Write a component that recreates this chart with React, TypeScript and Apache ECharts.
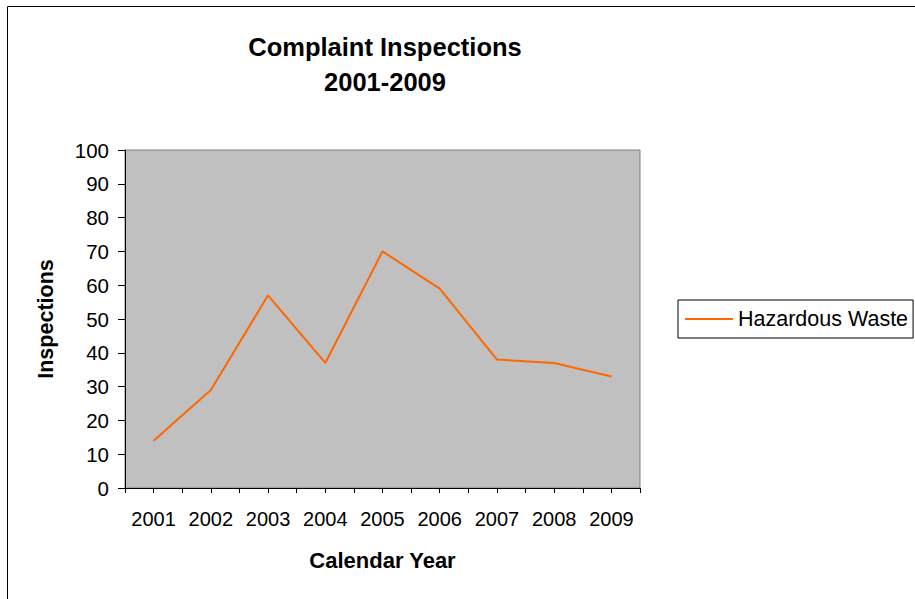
import React, { useEffect, useRef } from "react";
import * as echarts from "echarts";

const years = ["2001", "2002", "2003", "2004", "2005", "2006", "2007", "2008", "2009"];
const hazardousWaste = [14, 29, 57, 37, 70, 59, 38, 37, 33];
const seriesName = "Hazardous Waste";
const titleLines = ["Complaint Inspections", "2001-2009"];
const yAxisTitle = "Inspections";
const xAxisTitle = "Calendar Year";

const FONT = "'Liberation Sans', Arial, sans-serif";

export default function App() {
  const ref = useRef<HTMLDivElement>(null);
  useEffect(() => {
    if (!ref.current) return;
    const chart = echarts.init(ref.current, undefined, { renderer: "svg" });
    chart.setOption({
      animation: false,
      backgroundColor: "#ffffff",
      textStyle: { fontFamily: FONT },
      title: {
        text: titleLines.join("\n"),
        left: 380,
        top: 24,
        textAlign: "center",
        textStyle: {
          fontFamily: FONT,
          fontSize: 25.5,
          fontWeight: "bold",
          color: "#000",
          lineHeight: 35,
        },
      },
      graphic: [
        {
          type: "rect",
          shape: { x: 7.5, y: 6.5, width: 1200, height: 1200 },
          style: { fill: "none", stroke: "#000", lineWidth: 1 },
          silent: true,
          z: -10,
        },
      ],
      legend: {
        left: 678,
        top: 300,
        orient: "vertical",
        backgroundColor: "#fff",
        borderColor: "#000",
        borderWidth: 1,
        padding: [8, 5, 8, 7],
        itemWidth: 48,
        itemHeight: 14,
        itemGap: 0,
        textStyle: { fontFamily: FONT, fontSize: 21.5, color: "#000", padding: [0, 0, 0, 0] },
        data: [{ name: seriesName, icon: "path://M0,6 L48,6 L48,8 L0,8 Z" }],
      },
      grid: {
        left: 125,
        top: 150,
        right: 275,
        bottom: 111,
        show: true,
        backgroundColor: "#C0C0C0",
        borderColor: "#808080",
        borderWidth: 1,
      },
      xAxis: [
        {
          type: "category",
          data: years,
          boundaryGap: true,
          axisLine: { show: true, lineStyle: { color: "#000", width: 1 } },
          axisTick: { show: true, alignWithLabel: false, length: 5, lineStyle: { color: "#000" } },
          axisLabel: { fontFamily: FONT, fontSize: 20, color: "#000", margin: 21, interval: 0 },
          name: xAxisTitle,
          nameLocation: "middle",
          nameGap: 61,
          nameTextStyle: { fontFamily: FONT, fontSize: 22, fontWeight: "bold", color: "#000" },
        },
        {
          type: "category",
          data: years,
          boundaryGap: true,
          position: "bottom",
          axisLine: { show: false },
          axisTick: { show: true, alignWithLabel: true, length: 5, lineStyle: { color: "#000" } },
          axisLabel: { show: false },
        },
      ],
      yAxis: {
        type: "value",
        min: 0,
        max: 100,
        interval: 10,
        splitLine: { show: false },
        axisLine: { show: true, lineStyle: { color: "#000", width: 1 } },
        axisTick: { show: true, length: 7, lineStyle: { color: "#000" } },
        axisLabel: { fontFamily: FONT, fontSize: 20.5, color: "#000", margin: 16 },
        name: yAxisTitle,
        nameLocation: "middle",
        nameGap: 68,
        nameRotate: 90,
        nameTextStyle: { fontFamily: FONT, fontSize: 21.5, fontWeight: "bold", color: "#000" },
      },
      series: [
        {
          name: seriesName,
          type: "line",
          xAxisIndex: 0,
          data: hazardousWaste,
          symbol: "none",
          showSymbol: false,
          lineStyle: { color: "#FF6600", width: 2 },
          itemStyle: { color: "#FF6600" },
        },
      ],
    });
    return () => chart.dispose();
  }, []);
  return (
    <div
      ref={ref}
      style={{ position: "absolute", left: 0, top: 0, width: 915, height: 599 }}
    />
  );
}
